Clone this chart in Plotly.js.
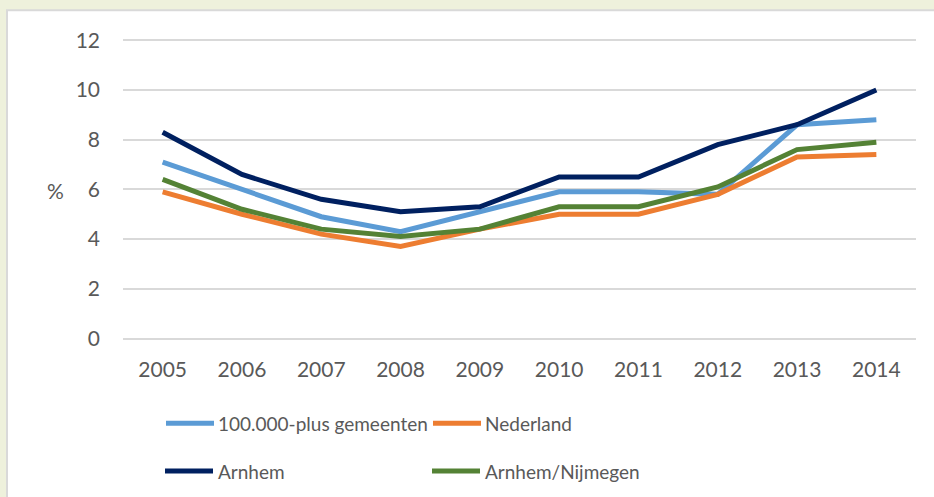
<!DOCTYPE html>
<html>
<head>
<meta charset="utf-8">
<script src="https://cdn.plot.ly/plotly-3.0.1.min.js"></script>
<style>html,body{margin:0;padding:0;background:#eef1dc;}#chart{width:934px;height:497px;}</style>
</head>
<body>
<div id="chart"></div>
<script>
var years = ['2005','2006','2007','2008','2009','2010','2011','2012','2013','2014'];
var seriesNames = ['100.000-plus gemeenten','Nederland','Arnhem','Arnhem/Nijmegen'];
var plus100k = [7.1, 6.0, 4.9, 4.3, 5.1, 5.9, 5.9, 5.8, 8.6, 8.8];
var nederland = [5.9, 5.0, 4.2, 3.7, 4.4, 5.0, 5.0, 5.8, 7.3, 7.4];
var arnhem = [8.3, 6.6, 5.6, 5.1, 5.3, 6.5, 6.5, 7.8, 8.6, 10.0];
var arnhemNijmegen = [6.4, 5.2, 4.4, 4.1, 4.4, 5.3, 5.3, 6.1, 7.6, 7.9];
var yTicks = [0, 2, 4, 6, 8, 10, 12];

var colors = ['#5b9bd5', '#ed7d31', '#002060', '#548235'];
var values = [plus100k, nederland, arnhem, arnhemNijmegen];
var legends = ['legend', 'legend', 'legend2', 'legend2'];
var font = 'Lato, "Liberation Sans", sans-serif';

var traces = values.map(function (v, i) {
  return {
    x: years, y: v, name: seriesNames[i], type: 'scatter', mode: 'lines',
    line: {color: colors[i], width: 5},
    legend: legends[i]
  };
});

// plot area: y=0 at 339px, y=12 at 40px
var pxPerUnit = 299 / 12;
var yLo = -0.1, yHi = 12.05;
var plotTop = 40 - (yHi - 12) * pxPerUnit;
var plotBottom = 339 - yLo * pxPerUnit;
var plotH = plotBottom - plotTop;
function py(p) { return (plotBottom - p) / plotH; }   // pixel -> paper y
function px(p) { return (p - 123) / 793; }            // pixel -> paper x

var legendCommon = {
  orientation: 'h', xanchor: 'left', yanchor: 'top',
  entrywidth: 204, entrywidthmode: 'pixels', itemwidth: 48,
  bgcolor: 'rgba(0,0,0,0)', font: {size: 19, color: '#595959'}, traceorder: 'normal'
};
var layout = {
  width: 934, height: 497,
  margin: {l: 123, r: 18, t: plotTop, b: 497 - plotBottom, autoexpand: false},
  paper_bgcolor: '#eef1dc',
  plot_bgcolor: 'rgba(0,0,0,0)',
  font: {family: font, color: '#595959', size: 20},
  xaxis: {
    type: 'category', range: [-0.5, 9.5], showgrid: false, zeroline: false,
    showline: false, ticks: '', tickfont: {size: 21, color: '#595959'},
    ticklabelstandoff: 14, fixedrange: true
  },
  yaxis: {
    range: [yLo, yHi], tickvals: yTicks, showgrid: true, gridcolor: '#d9d9d9', gridwidth: 2,
    zeroline: false, showline: false, ticks: '', tickfont: {size: 21, color: '#595959'},
    ticklabelstandoff: 22, fixedrange: true
  },
  shapes: [{
    type: 'rect', xref: 'paper', yref: 'paper', layer: 'below',
    x0: px(7), x1: px(945), y0: py(510), y1: py(10),
    fillcolor: '#ffffff', line: {color: '#d9d9d9', width: 2}
  }],
  annotations: [{
    text: '%', xref: 'paper', yref: 'paper', showarrow: false,
    x: px(55), y: py(191), xanchor: 'center', yanchor: 'middle',
    font: {size: 21, color: '#595959'}
  }],
  showlegend: true,
  legend: Object.assign({}, legendCommon, {x: px(160), y: py(405)}),
  legend2: Object.assign({}, legendCommon, {x: px(160), y: py(453)})
};

function stretchLegendLines() {
  document.querySelectorAll('g.traces').forEach(function (tr) {
    var text = tr.querySelector('text.legendtext');
    var path = tr.querySelector('.legendlines path');
    if (!text || !path) return;
    var tx = parseFloat(text.getAttribute('x'));
    var off = path.getCTM().e - tr.getCTM().e;
    var end = tx - 4, start = end - 48;
    path.setAttribute('d', 'M' + (start - off) + ',0h' + (end - start));
  });
}
Plotly.newPlot('chart', traces, layout, {displayModeBar: false, staticPlot: true}).then(stretchLegendLines);
</script>
</body>
</html>
